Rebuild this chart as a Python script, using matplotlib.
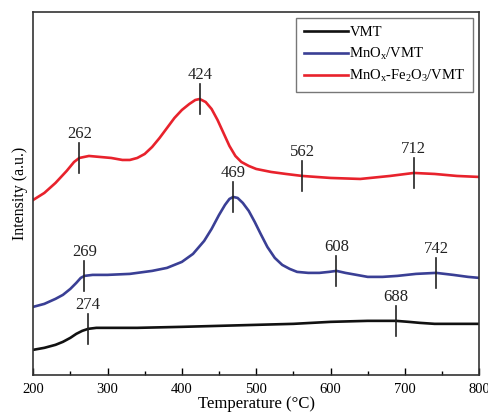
import matplotlib
matplotlib.use("Agg")
import matplotlib.pyplot as plt
from matplotlib.ticker import MultipleLocator

plt.rcParams['font.family'] = ['Liberation Serif', 'DejaVu Serif']
plt.rcParams['mathtext.fontset'] = 'custom'
plt.rcParams['mathtext.rm'] = 'Liberation Serif'
plt.rcParams['mathtext.it'] = 'Liberation Serif:italic'

temp_vmt = [200, 215, 230, 240, 250, 258, 266, 274, 285, 300, 340, 400, 450, 500, 550, 600, 650, 688, 705, 720, 740, 770, 800]
int_vmt = [25, 27, 30, 33, 37, 41, 44, 46, 47, 47, 47, 48, 49, 50, 51, 53, 54, 54, 53, 52, 51, 51, 51]

temp_mn = [200, 215, 230, 240, 250, 258, 264, 269, 280, 300, 330, 360, 380, 400, 415, 430, 440, 450, 458, 464, 469, 475, 482, 490, 498, 506, 515, 525, 535, 545, 555, 570, 585, 598, 608, 620, 635, 650, 670, 690, 715, 742, 765, 785, 800]
int_mn = [68, 71, 76, 80, 86, 92, 97, 99, 100, 100, 101, 104, 107, 113, 121, 134, 146, 160, 170, 176, 178, 177, 172, 164, 153, 141, 128, 117, 110, 106, 103, 102, 102, 103, 104, 102, 100, 98, 98, 99, 101, 102, 100, 98, 97]

temp_fe = [200, 215, 230, 245, 255, 262, 275, 290, 305, 320, 330, 340, 350, 360, 370, 380, 390, 400, 410, 418, 424, 432, 440, 448, 456, 464, 472, 480, 490, 500, 520, 540, 562, 600, 640, 680, 712, 740, 770, 800]
int_fe = [175, 182, 192, 204, 213, 217, 219, 218, 217, 215, 215, 217, 221, 228, 237, 247, 257, 265, 271, 275, 276, 273, 266, 255, 242, 229, 219, 213, 209, 206, 203, 201, 199, 197, 196, 199, 202, 201, 199, 198]

series_names = ['VMT', r'MnO$_\mathrm{x}$/VMT', r'MnO$_\mathrm{x}$-Fe$_2$O$_3$/VMT']
series_colors = ['#111111', '#3a3f95', '#e8222c']

peak_temps = [274, 688, 269, 469, 608, 742, 262, 424, 562, 712]
peak_vals = [46, 54, 99, 178, 104, 102, 217, 276, 199, 202]
peak_labels = ['274', '688', '269', '469', '608', '742', '262', '424', '562', '712']

fig = plt.figure(figsize=(4.88, 4.16), dpi=100)
ax = fig.add_axes([0.068, 0.099, 0.914, 0.872])

for t, v, n, c in zip([temp_vmt, temp_mn, temp_fe], [int_vmt, int_mn, int_fe], series_names, series_colors):
    ax.plot(t, v, color=c, lw=1.9, label=n, solid_joinstyle='round')

for t, v, lab in zip(peak_temps, peak_vals, peak_labels):
    ax.plot([t, t], [v - 15, v + 15], color='#222222', lw=1.2)
    ax.text(t, v + 24, lab, ha='center', va='center', fontsize=12, color='#222222')

ax.set_xlim(200, 800)
ax.set_ylim(0, 363)
ax.set_yticks([])
ax.xaxis.set_major_locator(MultipleLocator(100))
ax.xaxis.set_minor_locator(MultipleLocator(50))
ax.tick_params(axis='x', which='major', direction='in', length=5, width=1, labelsize=10.5, pad=6)
ax.tick_params(axis='x', which='minor', direction='in', length=3, width=1)
for s in ax.spines.values():
    s.set_linewidth(1.2)
    s.set_color('#333333')
ax.set_xlabel('Temperature (°C)', fontsize=12, labelpad=0)
ax.set_ylabel('Intensity (a.u.)', fontsize=11.5, labelpad=4)

leg = ax.legend(loc='upper right', fontsize=10.5, handlelength=3.0, handletextpad=0.1,
                labelspacing=0.45, fancybox=False, edgecolor='#555555', borderpad=0.55,
                borderaxespad=0.4)
leg.get_frame().set_linewidth(1.0)

fig.savefig('out.png', dpi=100)
